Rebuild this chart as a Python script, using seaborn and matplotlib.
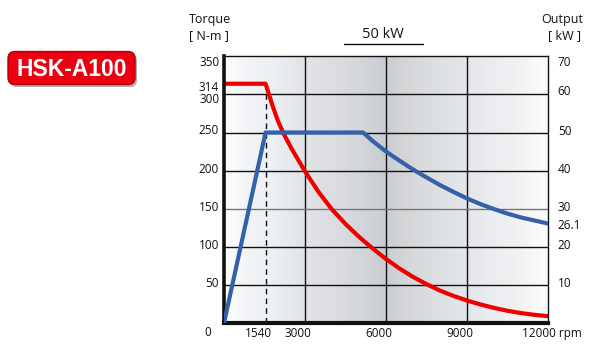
import numpy as np
import matplotlib
matplotlib.use("Agg")
import matplotlib.pyplot as plt
from matplotlib.colors import LinearSegmentedColormap
from matplotlib.patches import FancyBboxPatch
from matplotlib.transforms import ScaledTranslation
import seaborn as sns

# ---------------- data ----------------
torque_rpm = [0, 1540, 1800, 2000, 2200, 2500, 3000, 3500, 4000, 4500, 5000, 5500,
              6000, 6500, 7000, 7500, 8000, 8500, 9000, 9500, 10000, 10500, 11000, 11500, 12000]
torque_nm = [314, 314, 285, 265, 249, 229, 199, 172, 149, 130, 113, 98,
             84, 71.5, 60.5, 51, 42.5, 35.5, 29.5, 24.3, 19.8, 16, 13, 10.7, 9]

output_rpm = [0, 1540, 5150, 5500, 6000, 6500, 7000, 7500, 8000, 8500, 9000,
              9500, 10000, 10500, 11000, 11500, 12000]
output_kw = [0, 50, 50, 47.8, 45, 42.6, 40.3, 38.2, 36.2, 34.4, 32.7,
             31.2, 29.9, 28.7, 27.7, 26.9, 26.1]

knee_rpm = 1540
max_torque = 314

x_ticks = [0, 1540, 3000, 6000, 9000, 12000]
x_labels = ["0", "1540", "3000", "6000", "9000", "12000 rpm"]
y_ticks = [50, 100, 150, 200, 250, 300, 314, 350]
y_labels = ["50", "100", "150", "200", "250", "300", "314", "350"]
y2_ticks = [10, 20, 26.1, 30, 40, 50, 60, 70]
y2_labels = ["10", "20", "26.1", "30", "40", "50", "60", "70"]
grid_x = [3000, 6000, 9000]
grid_y = [50, 100, 150, 200, 250, 300]

# ---------------- style ----------------
sns.set_style("white")
plt.rcParams["font.family"] = ["Open Sans", "DejaVu Sans"]

W, H = 591, 348
fig = plt.figure(figsize=(W / 100, H / 100), dpi=100)
fig.patch.set_facecolor("white")

L, R, T, B = 224, 548, 56.3, 323
ax = fig.add_axes([L / W, (H - B) / H, (R - L) / W, (B - T) / H])

# background gradient
cmap = LinearSegmentedColormap.from_list(
    "bg",
    [(0.00, "#fcfdfd"), (0.07, "#f3f4f6"), (0.15, "#eceff3"), (0.25, "#e1e3e7"),
     (0.38, "#d8dadd"), (0.47, "#cdd1d6"), (0.50, "#c9cdd2"), (0.55, "#d3d4d6"),
     (0.65, "#dcdfe2"), (0.75, "#e4e6e9"), (0.82, "#eaecef"), (0.90, "#f1f1f2"),
     (1.00, "#fbfcfc")])
grad = np.linspace(0, 1, 600)[None, :]
ax.imshow(grad, extent=[0, 12000, 0, 350], aspect="auto", cmap=cmap, zorder=0)

# grid lines
for gx in grid_x:
    ax.axvline(gx, color="#111111", lw=1.0, zorder=1)
for gy in grid_y:
    ax.axhline(gy, color="#777777" if gy == 150 else "#111111", lw=1.0, zorder=1)

# dashed line at knee
ax.vlines(knee_rpm, 0, max_torque, colors="#111111", linestyles=(0, (4, 3)), lw=1.0, zorder=2)

# torque curve
sns.lineplot(x=torque_rpm, y=torque_nm, ax=ax, color="#ee0000", linewidth=3.0, zorder=4)

ax.set_xlim(0, 12000)
ax.set_ylim(0, 350)

# output curve on twin axis
ax2 = ax.twinx()
sns.lineplot(x=output_rpm, y=output_kw, ax=ax2, color="#3461aa", linewidth=3.0, zorder=3)
ax2.set_ylim(0, 70)
ax2.set_xlim(0, 12000)

# spines
for s in ax2.spines.values():
    s.set_visible(False)
ax.spines["left"].set_linewidth(2.6)
ax.spines["bottom"].set_linewidth(3.0)
ax.spines["top"].set_linewidth(1.0)
ax.spines["right"].set_linewidth(1.0)
for s in ax.spines.values():
    s.set_color("#111111")
    s.set_zorder(6)

def shift(lbl, dx_px, dy_px):
    lbl.set_transform(lbl.get_transform() + ScaledTranslation(dx_px / 100, dy_px / 100, fig.dpi_scale_trans))

fs = 8.5
# x ticks
ax.set_xticks(x_ticks)
ax.set_xticklabels(x_labels, fontsize=fs, color="#111111")
ax.tick_params(axis="x", length=0, pad=3)
for v, lbl in zip(x_ticks, ax.get_xticklabels()):
    if v == 0:
        shift(lbl, -16, 1)
    elif v == 12000:
        lbl.set_horizontalalignment("left")
        shift(lbl, -26.5, 0)
    else:
        shift(lbl, -7, 0)

# left y ticks
ax.set_yticks(y_ticks)
ax.set_yticklabels(y_labels, fontsize=fs, color="#111111")
ax.tick_params(axis="y", length=0, pad=3.5)
for v, lbl in zip(y_ticks, ax.get_yticklabels()):
    if v == 350:
        shift(lbl, 0, -5)
    elif v == 314:
        shift(lbl, 0, -1.8)
    elif v == 300:
        shift(lbl, 0, -3.4)
    else:
        shift(lbl, 0, 3)

# right y ticks
ax2.set_yticks(y2_ticks)
ax2.set_yticklabels(y2_labels, fontsize=fs, color="#111111")
ax2.tick_params(axis="y", length=0, pad=7)
for v, lbl in zip(y2_ticks, ax2.get_yticklabels()):
    if v == 70:
        shift(lbl, 0, -5)
    elif v == 60:
        shift(lbl, 0, 4.5)
    elif v == 26.1:
        pass
    else:
        shift(lbl, 0, 3)
ax.set_xlabel("")
ax.set_ylabel("")
ax2.set_ylabel("")

# header texts (figure pixel coords)
def fx(px):
    return px / W

def fy(py):
    return (H - py) / H

fig.text(fx(189), fy(20), "Torque", fontsize=9, ha="left", va="center", color="#111111")
fig.text(fx(189), fy(35.5), "[ N-m ]", fontsize=9, ha="left", va="center", color="#111111")
fig.text(fx(583.5), fy(20), "Output", fontsize=9, ha="right", va="center", color="#111111")
fig.text(fx(565), fy(36), "[ kW ]", fontsize=9, ha="center", va="center", color="#111111")
fig.text(fx(382.5), fy(34), "50 kW", fontsize=10.5, ha="center", va="center", color="#111111")
fig.add_artist(plt.Line2D([fx(344), fx(422.5)], [fy(43.7), fy(43.7)], color="#111111", lw=1.0))

# badge
bax = fig.add_axes([0, 0, 1, 1], zorder=10)
bax.set_xlim(0, W)
bax.set_ylim(H, 0)
bax.axis("off")
shadow = FancyBboxPatch((10, 54), 127, 33, boxstyle="round,pad=0,rounding_size=7",
                        fc="#7a7a7a", ec="none", alpha=0.6)
bax.add_patch(shadow)
badge = FancyBboxPatch((8, 51.5), 127, 33, boxstyle="round,pad=0,rounding_size=7",
                       fc="#ea0010", ec="#b0000a", lw=1.0)
bax.add_patch(badge)
bax.text(72, 69.5, "HSK-A100", color="white", fontsize=16.5, fontweight="bold",
         family=["Liberation Sans", "DejaVu Sans"], ha="center", va="center")

fig.savefig("out.png", dpi=100)
